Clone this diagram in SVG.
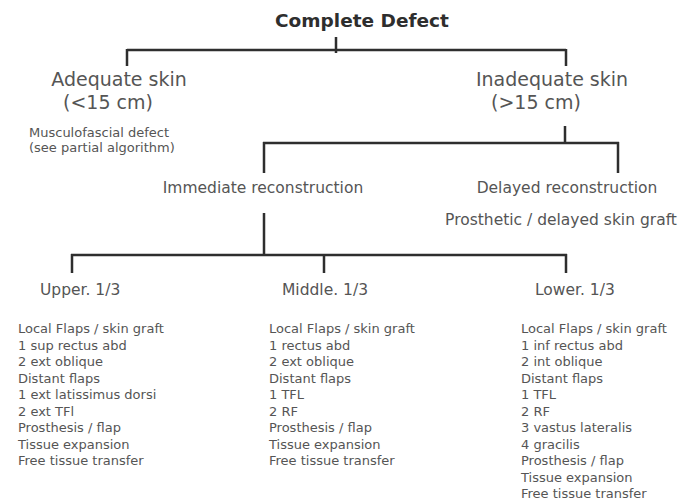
<svg xmlns="http://www.w3.org/2000/svg" width="693" height="503" viewBox="0 0 693 503">
<style>
text{font-family:"DejaVu Sans","Liberation Sans",sans-serif;fill:#555}
.title{font-weight:bold;font-size:18.5px;fill:#2e2e2e}
.h1{font-size:19px}
.h2{font-size:15.5px}
.small{font-size:13px}
.list{font-size:13px}
.conn path{stroke:#2e2e2e;stroke-width:2.5;fill:none}
</style>
<rect width="693" height="503" fill="#fff"/>
<g class="conn" id="connectors">
<path d="M127 50H566M336 37V53M127 49V66M566 49V66"/>
<path d="M565 126V143M263 143H619M264 142V173M618 142V173"/>
<path d="M264 213V255M71 255H567M72 254V273M324 254V273M566 254V273"/>
</g>
<g id="root"><text class="title" x="275" y="27">Complete Defect</text></g>
<g id="adequate">
<text class="h1" x="119" y="86" text-anchor="middle">Adequate skin</text>
<text class="h1" x="108" y="108.5" text-anchor="middle">(&lt;15 cm)</text>
</g>
<g id="musculofascial">
<text class="small" x="29" y="137">Musculofascial defect</text>
<text class="small" x="29" y="152">(see partial algorithm)</text>
</g>
<g id="inadequate">
<text class="h1" x="552" y="86" text-anchor="middle">Inadequate skin</text>
<text class="h1" x="536" y="108.5" text-anchor="middle">(&gt;15 cm)</text>
</g>
<g id="immediate"><text class="h2" x="263" y="193" text-anchor="middle">Immediate reconstruction</text></g>
<g id="delayed">
<text class="h2" x="567" y="193" text-anchor="middle">Delayed reconstruction</text>
<text class="h2" x="561" y="225" text-anchor="middle">Prosthetic / delayed skin graft</text>
</g>
<g id="upper">
<text class="h2" x="40" y="295">Upper. 1/3</text>
<text class="list" x="18" y="333">Local Flaps / skin graft</text>
<text class="list" x="18" y="349.5">1 sup rectus abd</text>
<text class="list" x="18" y="366">2 ext oblique</text>
<text class="list" x="18" y="382.5">Distant flaps</text>
<text class="list" x="18" y="399">1 ext latissimus dorsi</text>
<text class="list" x="18" y="415.5">2 ext TFl</text>
<text class="list" x="18" y="432">Prosthesis / flap</text>
<text class="list" x="18" y="448.5">Tissue expansion</text>
<text class="list" x="18" y="465">Free tissue transfer</text>
</g>
<g id="middle">
<text class="h2" x="282" y="295">Middle. 1/3</text>
<text class="list" x="269" y="333">Local Flaps / skin graft</text>
<text class="list" x="269" y="349.5">1 rectus abd</text>
<text class="list" x="269" y="366">2 ext oblique</text>
<text class="list" x="269" y="382.5">Distant flaps</text>
<text class="list" x="269" y="399">1 TFL</text>
<text class="list" x="269" y="415.5">2 RF</text>
<text class="list" x="269" y="432">Prosthesis / flap</text>
<text class="list" x="269" y="448.5">Tissue expansion</text>
<text class="list" x="269" y="465">Free tissue transfer</text>
</g>
<g id="lower">
<text class="h2" x="535" y="295">Lower. 1/3</text>
<text class="list" x="521" y="333">Local Flaps / skin graft</text>
<text class="list" x="521" y="349.5">1 inf rectus abd</text>
<text class="list" x="521" y="366">2 int oblique</text>
<text class="list" x="521" y="382.5">Distant flaps</text>
<text class="list" x="521" y="399">1 TFL</text>
<text class="list" x="521" y="415.5">2 RF</text>
<text class="list" x="521" y="432">3 vastus lateralis</text>
<text class="list" x="521" y="448.5">4 gracilis</text>
<text class="list" x="521" y="465">Prosthesis / flap</text>
<text class="list" x="521" y="481.5">Tissue expansion</text>
<text class="list" x="521" y="498">Free tissue transfer</text>
</g>
</svg>
